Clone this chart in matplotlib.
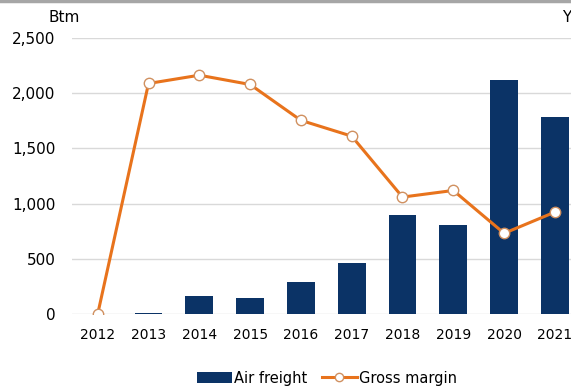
# -*- coding: utf-8 -*-
"""
Air freight volume vs gross margin, 2012-2021
"""

from matplotlib import pyplot as plt
from matplotlib.lines import Line2D
import numpy as np

years = ['2012', '2013', '2014', '2015', '2016', '2017', '2018', '2019', '2020', '2021']
air_freight = [0, 10, 165, 145, 292, 463, 898, 810, 2118, 1780]
gross_margin = [0, 2088, 2163, 2079, 1754, 1611, 1059, 1119, 731, 923]

navy = '#0b3366'
orange = '#e8731c'

fig = plt.figure(figsize=(5.71, 3.91), dpi=100)
ax = fig.add_axes([72.3/571, 77/391, 508/571, 276/391])

x = np.arange(len(years))
bars = ax.bar(x, air_freight, width=0.55, color=navy, zorder=2, label='Air freight')
line, = ax.plot(x, gross_margin, color=orange, lw=2.2, marker='o', ms=7.5,
                mfc='white', mec='#d09060', mew=1, zorder=3, label='Gross margin')

ax.set_xlim(-0.5, len(years) - 0.5)
ax.set_ylim(0, 2500)
ax.set_yticks([0, 500, 1000, 1500, 2000, 2500])
ax.set_yticklabels(['0', '500', '1,000', '1,500', '2,000', '2,500'])
ax.set_xticks(x)
ax.set_xticklabels(years)
ax.tick_params(axis='y', length=0, pad=12, labelsize=11)
ax.tick_params(axis='x', length=0, pad=10, labelsize=10)
ax.yaxis.grid(True, color='#d9d9d9', lw=1, zorder=0)
for s in ax.spines.values():
  s.set_visible(False)

# axis unit labels
fig.text(64/571, 1 - 17/391, 'Btm', ha='center', va='center', fontsize=11)
fig.text(562/571, 1 - 17/391, 'Y', ha='left', va='center', fontsize=11)

# grey frame line along the top
fig.add_artist(Line2D([0, 1], [1 - 1/391, 1 - 1/391], color='#a6a6a6', lw=2.5,
                      transform=fig.transFigure))

leg = ax.legend([bars, line], ['Air freight', 'Gross margin'], loc='center',
                bbox_to_anchor=(327/571, 13/391), bbox_transform=fig.transFigure,
                ncol=2, frameon=False, fontsize=10.5, handlelength=2.4,
                columnspacing=1.0, handletextpad=0.15, markerscale=0.8)

plt.savefig('out.png', dpi=100)
